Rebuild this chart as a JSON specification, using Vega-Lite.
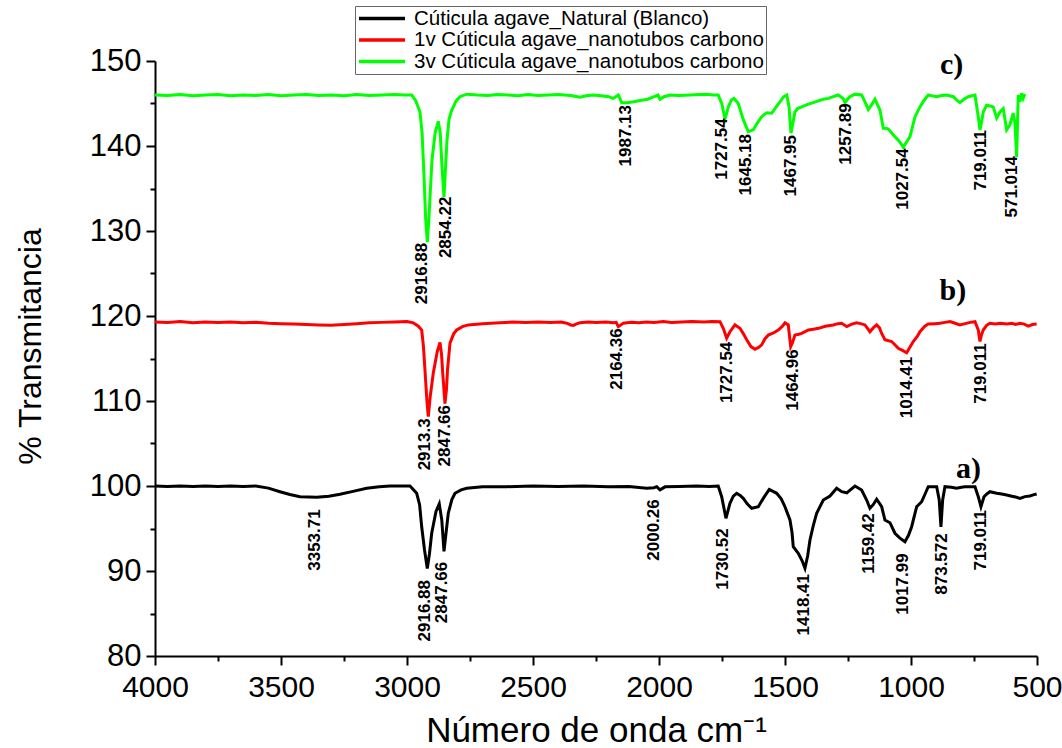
{
  "$schema": "https://vega.github.io/schema/vega-lite/v6.json",
  "width": 882,
  "height": 595,
  "autosize": "none",
  "padding": {"left": 155, "top": 61, "right": 25, "bottom": 92},
  "background": "white",
  "config": {
    "font": "Liberation Sans",
    "view": {"stroke": null},
    "axis": {
      "grid": false,
      "domainColor": "black",
      "domainWidth": 2,
      "tickColor": "black",
      "tickWidth": 2,
      "labelColor": "black",
      "labelFont": "Liberation Sans",
      "labelFontSize": 30,
      "titleFont": "Liberation Sans",
      "titleFontSize": 32,
      "titleFontWeight": "normal",
      "titleColor": "black",
      "labelOverlap": false,
      "labelFlush": false
    }
  },
  "datasets": {
    "natural": [
      {"wn":4000,"t":100.0},{"wn":3950,"t":99.95},{"wn":3900,"t":100.0},{"wn":3850,"t":99.95},{"wn":3800,"t":100.0},{"wn":3750,"t":99.95},{"wn":3700,"t":100.0},{"wn":3650,"t":99.95},{"wn":3600,"t":100.0},{"wn":3550,"t":99.75},{"wn":3504,"t":99.33},{"wn":3465,"t":99.0},{"wn":3424.6,"t":98.74},{"wn":3390,"t":98.7},{"wn":3358.4,"t":98.67},{"wn":3310,"t":98.8},{"wn":3265.9,"t":99.02},{"wn":3210,"t":99.4},{"wn":3160,"t":99.73},{"wn":3110,"t":99.9},{"wn":3067.5,"t":100.0},{"wn":3020,"t":100.0},{"wn":2988,"t":100.0},{"wn":2961.6,"t":99.14},{"wn":2950,"t":97.8},{"wn":2941.7,"t":95.2},{"wn":2930.6,"t":92.5},{"wn":2919.5,"t":90.3},{"wn":2911,"t":92.0},{"wn":2902,"t":94.44},{"wn":2885,"t":97.0},{"wn":2872,"t":97.9},{"wn":2862,"t":96.0},{"wn":2853.2,"t":92.3},{"wn":2845,"t":94.5},{"wn":2836.2,"t":96.8},{"wn":2822,"t":98.4},{"wn":2809.6,"t":99.14},{"wn":2785,"t":99.55},{"wn":2763,"t":99.73},{"wn":2700,"t":99.9},{"wn":2604,"t":99.92},{"wn":2500,"t":100.0},{"wn":2400,"t":99.95},{"wn":2300,"t":100.0},{"wn":2200,"t":99.9},{"wn":2120,"t":99.95},{"wn":2048.9,"t":99.73},{"wn":2020,"t":99.8},{"wn":2009,"t":99.92},{"wn":1996,"t":99.55},{"wn":1976,"t":99.9},{"wn":1920,"t":99.95},{"wn":1850,"t":100.0},{"wn":1800,"t":99.95},{"wn":1765,"t":100.0},{"wn":1751.3,"t":98.74},{"wn":1734.3,"t":96.2},{"wn":1718.4,"t":97.96},{"wn":1705,"t":98.8},{"wn":1691.8,"t":99.14},{"wn":1678,"t":98.9},{"wn":1665.6,"t":98.55},{"wn":1650,"t":97.9},{"wn":1632.3,"t":97.38},{"wn":1606,"t":97.56},{"wn":1585,"t":98.6},{"wn":1562.5,"t":99.6},{"wn":1533,"t":99.14},{"wn":1515,"t":98.5},{"wn":1500.2,"t":97.56},{"wn":1480.3,"t":96.0},{"wn":1472,"t":94.5},{"wn":1467.2,"t":92.86},{"wn":1447.4,"t":92.08},{"wn":1432,"t":91.2},{"wn":1420.8,"t":90.32},{"wn":1410,"t":91.8},{"wn":1400.9,"t":93.65},{"wn":1388,"t":95.3},{"wn":1374.4,"t":96.8},{"wn":1348,"t":98.35},{"wn":1321.6,"t":98.82},{"wn":1295,"t":99.73},{"wn":1275,"t":99.33},{"wn":1255,"t":99.2},{"wn":1222.4,"t":100.0},{"wn":1195.8,"t":99.53},{"wn":1176,"t":98.35},{"wn":1163,"t":97.38},{"wn":1150,"t":97.8},{"wn":1136.3,"t":98.44},{"wn":1116.4,"t":97.56},{"wn":1103.4,"t":96.0},{"wn":1083.5,"t":95.68},{"wn":1063.7,"t":94.44},{"wn":1045,"t":93.9},{"wn":1024,"t":93.45},{"wn":1010,"t":94.2},{"wn":997.4,"t":95.21},{"wn":977.6,"t":97.56},{"wn":957.7,"t":98.15},{"wn":945,"t":99.0},{"wn":931.5,"t":99.92},{"wn":898,"t":99.92},{"wn":888,"t":98.35},{"wn":881.2,"t":95.2},{"wn":874.4,"t":98.35},{"wn":865.3,"t":99.92},{"wn":840,"t":99.85},{"wn":818.9,"t":99.73},{"wn":800,"t":99.85},{"wn":786,"t":99.92},{"wn":746,"t":99.92},{"wn":733,"t":98.74},{"wn":722.4,"t":97.56},{"wn":710.4,"t":98.74},{"wn":698,"t":99.1},{"wn":686.7,"t":99.33},{"wn":660,"t":99.15},{"wn":640,"t":99.05},{"wn":620.5,"t":98.94},{"wn":600,"t":98.8},{"wn":585,"t":98.7},{"wn":567.7,"t":98.55},{"wn":548,"t":98.75},{"wn":528,"t":98.82},{"wn":515,"t":98.95},{"wn":501.4,"t":99.06}
    ],
    "uno": [
      {"wn":4000,"t":119.3},{"wn":3950,"t":119.25},{"wn":3900,"t":119.35},{"wn":3850,"t":119.2},{"wn":3800,"t":119.3},{"wn":3750,"t":119.25},{"wn":3700,"t":119.3},{"wn":3650,"t":119.2},{"wn":3600,"t":119.25},{"wn":3550,"t":119.15},{"wn":3500,"t":119.1},{"wn":3450,"t":119.05},{"wn":3400,"t":119.0},{"wn":3350,"t":118.95},{"wn":3300,"t":118.92},{"wn":3250,"t":119.0},{"wn":3200,"t":119.1},{"wn":3150,"t":119.2},{"wn":3100,"t":119.25},{"wn":3050,"t":119.3},{"wn":3000,"t":119.35},{"wn":2975,"t":119.2},{"wn":2955,"t":118.8},{"wn":2941.7,"t":118.35},{"wn":2935,"t":116.5},{"wn":2928.6,"t":113.6},{"wn":2921,"t":110.0},{"wn":2915.5,"t":108.15},{"wn":2908,"t":110.5},{"wn":2895.7,"t":113.3},{"wn":2880,"t":115.8},{"wn":2869,"t":116.9},{"wn":2863,"t":115.5},{"wn":2859,"t":113.6},{"wn":2849.3,"t":109.7},{"wn":2843,"t":111.5},{"wn":2839.4,"t":113.6},{"wn":2829.4,"t":116.8},{"wn":2815,"t":117.9},{"wn":2802.8,"t":118.35},{"wn":2780,"t":118.75},{"wn":2756.8,"t":118.95},{"wn":2700,"t":119.1},{"wn":2631,"t":119.2},{"wn":2580,"t":119.3},{"wn":2530,"t":119.25},{"wn":2480,"t":119.3},{"wn":2430,"t":119.25},{"wn":2390,"t":119.3},{"wn":2366,"t":119.15},{"wn":2350,"t":118.95},{"wn":2340,"t":118.9},{"wn":2325,"t":119.1},{"wn":2313,"t":119.2},{"wn":2280,"t":119.3},{"wn":2250,"t":119.25},{"wn":2210,"t":119.3},{"wn":2181,"t":119.2},{"wn":2170,"t":119.25},{"wn":2161.6,"t":118.75},{"wn":2141.8,"t":119.15},{"wn":2110,"t":119.25},{"wn":2080,"t":119.2},{"wn":2050,"t":119.3},{"wn":2020,"t":119.25},{"wn":1983,"t":119.35},{"wn":1950,"t":119.25},{"wn":1910,"t":119.3},{"wn":1870,"t":119.35},{"wn":1820,"t":119.3},{"wn":1790,"t":119.35},{"wn":1758,"t":119.33},{"wn":1745,"t":118.55},{"wn":1731.5,"t":117.4},{"wn":1718.4,"t":118.15},{"wn":1698.6,"t":118.95},{"wn":1678.7,"t":118.55},{"wn":1665,"t":117.9},{"wn":1652,"t":117.2},{"wn":1635,"t":116.4},{"wn":1619,"t":116.08},{"wn":1605,"t":116.3},{"wn":1592.6,"t":116.6},{"wn":1580,"t":117.3},{"wn":1566.4,"t":117.75},{"wn":1546,"t":118.0},{"wn":1526.7,"t":118.35},{"wn":1510,"t":118.8},{"wn":1500,"t":119.2},{"wn":1487,"t":118.95},{"wn":1477.5,"t":116.4},{"wn":1470,"t":116.9},{"wn":1460.5,"t":117.75},{"wn":1445,"t":117.85},{"wn":1434,"t":117.95},{"wn":1407,"t":118.35},{"wn":1387,"t":118.45},{"wn":1367,"t":118.55},{"wn":1340,"t":118.8},{"wn":1308.5,"t":118.95},{"wn":1290,"t":119.1},{"wn":1275,"t":119.15},{"wn":1255,"t":118.75},{"wn":1235,"t":119.05},{"wn":1215.6,"t":119.2},{"wn":1200,"t":119.1},{"wn":1182.7,"t":118.95},{"wn":1163,"t":118.15},{"wn":1150,"t":118.6},{"wn":1136.3,"t":118.95},{"wn":1125,"t":118.6},{"wn":1116.4,"t":117.95},{"wn":1103.4,"t":117.2},{"wn":1077,"t":117.0},{"wn":1060,"t":116.5},{"wn":1050.6,"t":116.2},{"wn":1030,"t":115.9},{"wn":1017.3,"t":115.68},{"wn":1005,"t":116.3},{"wn":991,"t":117.0},{"wn":975,"t":117.6},{"wn":964.5,"t":118.15},{"wn":945,"t":118.8},{"wn":931.5,"t":119.05},{"wn":905,"t":119.1},{"wn":885,"t":119.15},{"wn":865,"t":119.25},{"wn":845,"t":119.35},{"wn":825,"t":119.15},{"wn":806,"t":118.95},{"wn":785,"t":119.1},{"wn":765,"t":119.25},{"wn":746,"t":119.33},{"wn":733,"t":118.35},{"wn":726.4,"t":117.0},{"wn":720,"t":117.8},{"wn":713.3,"t":118.35},{"wn":700,"t":118.9},{"wn":686.7,"t":119.15},{"wn":665,"t":119.05},{"wn":645,"t":119.15},{"wn":620.5,"t":119.05},{"wn":600,"t":119.15},{"wn":585,"t":119.0},{"wn":567.7,"t":119.15},{"wn":550,"t":119.05},{"wn":534.8,"t":118.8},{"wn":518,"t":119.0},{"wn":501.4,"t":119.05}
    ],
    "tres": [
      {"wn":4000,"t":146.0},{"wn":3950,"t":145.95},{"wn":3900,"t":146.05},{"wn":3850,"t":145.9},{"wn":3800,"t":146.0},{"wn":3750,"t":146.05},{"wn":3700,"t":145.9},{"wn":3650,"t":146.0},{"wn":3600,"t":145.95},{"wn":3550,"t":146.05},{"wn":3500,"t":145.9},{"wn":3450,"t":146.0},{"wn":3400,"t":146.05},{"wn":3350,"t":145.95},{"wn":3300,"t":146.0},{"wn":3250,"t":145.9},{"wn":3200,"t":146.05},{"wn":3150,"t":145.95},{"wn":3100,"t":146.0},{"wn":3050,"t":146.05},{"wn":3010,"t":146.0},{"wn":2981,"t":146.0},{"wn":2965,"t":145.3},{"wn":2948.5,"t":144.0},{"wn":2940,"t":141.5},{"wn":2932.6,"t":136.5},{"wn":2926,"t":131.5},{"wn":2919.5,"t":128.7},{"wn":2913,"t":131.5},{"wn":2900.9,"t":138.35},{"wn":2888,"t":141.6},{"wn":2876,"t":142.9},{"wn":2868,"t":141.5},{"wn":2861,"t":137.5},{"wn":2853.2,"t":134.0},{"wn":2847,"t":137.5},{"wn":2841.3,"t":140.7},{"wn":2833,"t":143.2},{"wn":2822.7,"t":144.2},{"wn":2805,"t":145.3},{"wn":2789.8,"t":145.8},{"wn":2763,"t":146.1},{"wn":2720,"t":146.0},{"wn":2680,"t":145.95},{"wn":2640,"t":146.05},{"wn":2600,"t":146.0},{"wn":2560,"t":145.9},{"wn":2520,"t":146.05},{"wn":2480,"t":145.95},{"wn":2440,"t":146.0},{"wn":2400,"t":146.05},{"wn":2350,"t":145.95},{"wn":2313,"t":145.75},{"wn":2290,"t":145.9},{"wn":2260.8,"t":146.0},{"wn":2230,"t":145.9},{"wn":2200,"t":145.8},{"wn":2181.5,"t":145.6},{"wn":2161.6,"t":146.0},{"wn":2148,"t":145.1},{"wn":2128,"t":145.1},{"wn":2100,"t":145.2},{"wn":2075.5,"t":145.35},{"wn":2045,"t":145.5},{"wn":2024,"t":145.75},{"wn":2004,"t":146.0},{"wn":1996,"t":145.5},{"wn":1980,"t":145.8},{"wn":1956,"t":146.0},{"wn":1920,"t":145.95},{"wn":1877,"t":146.0},{"wn":1840,"t":146.05},{"wn":1811,"t":146.1},{"wn":1785,"t":146.0},{"wn":1765,"t":146.0},{"wn":1751,"t":145.0},{"wn":1744,"t":144.0},{"wn":1738,"t":143.2},{"wn":1731,"t":143.9},{"wn":1725,"t":144.6},{"wn":1713,"t":145.4},{"wn":1702.5,"t":145.6},{"wn":1685.4,"t":145.0},{"wn":1665.6,"t":143.1},{"wn":1645.8,"t":141.7},{"wn":1626,"t":141.9},{"wn":1610,"t":142.7},{"wn":1592.6,"t":143.45},{"wn":1572.7,"t":143.9},{"wn":1552.9,"t":143.85},{"wn":1535,"t":144.6},{"wn":1520,"t":145.2},{"wn":1505,"t":145.8},{"wn":1493,"t":146.0},{"wn":1484,"t":144.6},{"wn":1476.4,"t":141.5},{"wn":1468,"t":142.8},{"wn":1460.6,"t":144.0},{"wn":1450,"t":144.4},{"wn":1433.9,"t":144.6},{"wn":1410,"t":144.9},{"wn":1388,"t":145.1},{"wn":1368,"t":145.3},{"wn":1348,"t":145.5},{"wn":1328,"t":145.6},{"wn":1308.5,"t":145.8},{"wn":1288.7,"t":146.0},{"wn":1269,"t":145.6},{"wn":1262,"t":145.1},{"wn":1252,"t":145.5},{"wn":1242.4,"t":145.8},{"wn":1222.4,"t":146.1},{"wn":1195.8,"t":146.0},{"wn":1182.7,"t":145.2},{"wn":1169.6,"t":144.3},{"wn":1155,"t":144.9},{"wn":1143,"t":145.5},{"wn":1123,"t":144.2},{"wn":1110,"t":142.1},{"wn":1100,"t":142.1},{"wn":1090,"t":142.0},{"wn":1063.7,"t":141.1},{"wn":1045,"t":140.5},{"wn":1030.7,"t":139.85},{"wn":1017,"t":140.5},{"wn":1004,"t":141.1},{"wn":984,"t":143.45},{"wn":964.5,"t":144.6},{"wn":950,"t":145.3},{"wn":931.5,"t":146.0},{"wn":915,"t":145.9},{"wn":898,"t":145.8},{"wn":878,"t":145.95},{"wn":858.5,"t":146.0},{"wn":832,"t":145.8},{"wn":818,"t":145.4},{"wn":806,"t":145.1},{"wn":790,"t":145.5},{"wn":773,"t":145.8},{"wn":746,"t":146.0},{"wn":733,"t":143.45},{"wn":726.4,"t":141.9},{"wn":720,"t":142.8},{"wn":713.3,"t":144.0},{"wn":700,"t":144.8},{"wn":686,"t":144.7},{"wn":673.6,"t":144.6},{"wn":660,"t":143.3},{"wn":647,"t":144.0},{"wn":634,"t":144.4},{"wn":620.5,"t":141.9},{"wn":607.4,"t":142.5},{"wn":594.3,"t":143.85},{"wn":587.5,"t":142.7},{"wn":580.8,"t":138.7},{"wn":574.4,"t":146.0},{"wn":567.7,"t":145.2},{"wn":561,"t":146.2},{"wn":555,"t":145.6},{"wn":548,"t":146.1}
    ],
    "peaks": [
      {"wn":2939.4,"t":128.62,"label":"2916.88"},{"wn":2846.5,"t":134.04,"label":"2854.22"},{"wn":2132.3,"t":144.82,"label":"1987.13"},{"wn":1748.9,"t":143.26,"label":"1727.54"},{"wn":1653.6,"t":141.41,"label":"1645.18"},{"wn":1477.5,"t":141.29,"label":"1467.95"},{"wn":1259.3,"t":145.02,"label":"1257.89"},{"wn":1031.1,"t":139.73,"label":"1027.54"},{"wn":723.7,"t":141.88,"label":"719.011"},{"wn":598.2,"t":138.82,"label":"571.014"},
      {"wn":2929.9,"t":107.96,"label":"2913.3"},{"wn":2848.1,"t":109.53,"label":"2847.66"},{"wn":2168,"t":118.55,"label":"2164.36"},{"wn":1729,"t":116.98,"label":"1727.54"},{"wn":1469.6,"t":116.08,"label":"1464.96"},{"wn":1017.3,"t":115.21,"label":"1014.41"},{"wn":723.7,"t":116.79,"label":"719.011"},
      {"wn":3366.3,"t":97.26,"label":"3353.71"},{"wn":2929.9,"t":88.94,"label":"2916.88"},{"wn":2860,"t":91.09,"label":"2847.66"},{"wn":2020,"t":98.44,"label":"2000.26"},{"wn":1747.4,"t":95.02,"label":"1730.52"},{"wn":1424.8,"t":89.65,"label":"1418.41"},{"wn":1168.1,"t":96.79,"label":"1159.42"},{"wn":1033.3,"t":92.08,"label":"1017.99"},{"wn":875.9,"t":94.44,"label":"873.572"},{"wn":721.1,"t":97.18,"label":"719.011"}
    ],
    "tags": [
      {"wn":838.8,"t":148.47,"tag":"c)"},{"wn":833.5,"t":121.88,"tag":"b)"},{"wn":772,"t":100.94,"tag":"a)"}
    ]
  },
  "encoding": {
    "x": {
      "field": "wn",
      "type": "quantitative",
      "scale": {"domain": [500, 4000], "reverse": true, "nice": false, "zero": false},
      "axis": {
        "title": "Número de onda cm⁻¹",
        "titleFontSize": 35,
        "values": [500,750,1000,1250,1500,1750,2000,2250,2500,2750,3000,3250,3500,3750,4000],
        "format": "d",
        "labelExpr": "datum.value % 500 === 0 ? datum.label : ''",
        "tickSize": {"condition": {"test": "datum.value % 500 === 0", "value": 9}, "value": 5},
        "labelPadding": 7,
        "titleX": 441,
        "titleY": 85,
        "titleBaseline": "alphabetic"
      }
    },
    "y": {
      "field": "t",
      "type": "quantitative",
      "scale": {"domain": [80, 150], "nice": false, "zero": false},
      "axis": {
        "title": "% Transmitancia",
        "values": [80,85,90,95,100,105,110,115,120,125,130,135,140,145,150],
        "labelExpr": "datum.value % 10 === 0 ? datum.label : ''",
        "tickSize": {"condition": {"test": "datum.value % 10 === 0", "value": 9}, "value": 5},
        "labelFontSize": 31,
        "labelPadding": 5,
        "titleX": -125,
        "titleY": 285,
        "titleAngle": 270,
        "titleBaseline": "middle",
        "titleAlign": "center"
      }
    }
  },
  "layer": [
    {
      "data": {"name": "natural"},
      "mark": {"type": "line", "strokeWidth": 3},
      "encoding": {
        "color": {
          "datum": "Cúticula agave_Natural (Blanco)",
          "type": "nominal",
          "scale": {
            "domain": ["Cúticula agave_Natural (Blanco)", "1v Cúticula agave_nanotubos carbono", "3v Cúticula agave_nanotubos carbono"],
            "range": ["#000000", "#ff0000", "#00ff00"]
          },
          "legend": {
            "title": null,
            "orient": "none",
            "legendX": 200,
            "legendY": -55,
            "symbolType": "M-1,0H4.41",
            "symbolSize": 289,
            "symbolStrokeWidth": 3.5,
            "labelFont": "Liberation Sans",
            "labelFontSize": 20.5,
            "labelColor": "black",
            "labelOffset": 36,
            "labelLimit": 500,
            "strokeColor": "#666666",
            "fillColor": "white",
            "padding": 2,
            "rowPadding": 0.5
          }
        }
      }
    },
    {
      "data": {"name": "uno"},
      "mark": {"type": "line", "strokeWidth": 3},
      "encoding": {"color": {"datum": "1v Cúticula agave_nanotubos carbono", "type": "nominal"}}
    },
    {
      "data": {"name": "tres"},
      "mark": {"type": "line", "strokeWidth": 3},
      "encoding": {"color": {"datum": "3v Cúticula agave_nanotubos carbono", "type": "nominal"}}
    },
    {
      "data": {"name": "peaks"},
      "mark": {"type": "text", "angle": 270, "align": "right", "baseline": "middle", "font": "Liberation Sans", "fontWeight": "bold", "fontSize": 17, "color": "black"},
      "encoding": {"text": {"field": "label", "type": "nominal"}}
    },
    {
      "data": {"name": "tags"},
      "mark": {"type": "text", "align": "center", "baseline": "alphabetic", "font": "Liberation Serif", "fontWeight": "bold", "fontSize": 30, "color": "black"},
      "encoding": {"text": {"field": "tag", "type": "nominal"}}
    }
  ]
}
